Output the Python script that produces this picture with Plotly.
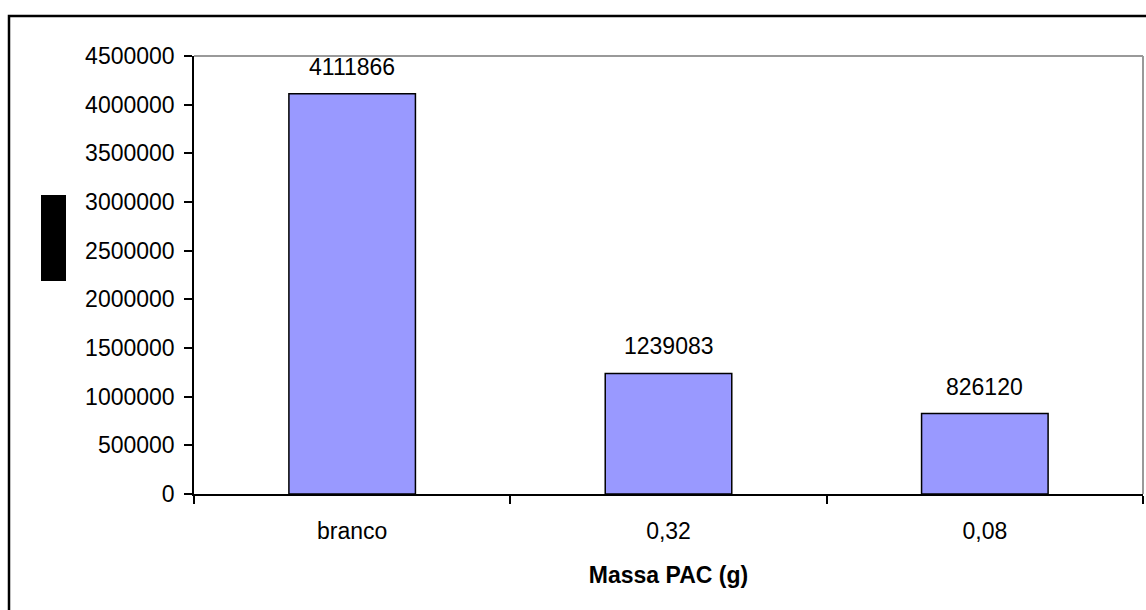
import plotly.graph_objects as go

categories = ["branco", "0,32", "0,08"]
values = [4111866, 1239083, 826120]
y_ticks = [0, 500000, 1000000, 1500000, 2000000, 2500000, 3000000, 3500000, 4000000, 4500000]
x_title = "Massa PAC (g)"

W, H = 1146, 610
L, R, T, B = 194, 3, 56, 116
pw, ph = W - L - R, H - T - B

def px_x(x):
    return (x - L) / pw

def px_y(y):
    return (H - B - y) / ph

FONT = "Liberation Sans, Arial, sans-serif"

fig = go.Figure(
    go.Bar(
        x=categories,
        y=values,
        marker=dict(color="#9999FF", line=dict(color="black", width=1.5)),
        hoverinfo="x+y",
    )
)

for c, v in zip(categories, values):
    fig.add_annotation(
        x=c, y=v, text=str(v), showarrow=False, yanchor="bottom", yshift=12,
        font=dict(family=FONT, size=23, color="black"),
    )

shapes = [
    # outer chart border
    dict(type="rect", xref="paper", yref="paper",
         x0=px_x(9), x1=px_x(1170), y0=px_y(630), y1=px_y(16),
         line=dict(color="black", width=2.5), fillcolor="rgba(0,0,0,0)", layer="below"),
    # plot area top and right border (gray)
    dict(type="line", xref="paper", yref="paper", x0=0, x1=1, y0=1, y1=1,
         line=dict(color="#999999", width=2), layer="below"),
    dict(type="line", xref="paper", yref="paper", x0=1, x1=1, y0=0, y1=1,
         line=dict(color="#999999", width=2), layer="below"),
    # redacted y-axis title block
    dict(type="rect", xref="paper", yref="paper",
         x0=px_x(41), x1=px_x(66), y0=px_y(281), y1=px_y(195),
         line=dict(width=0), fillcolor="black", layer="above"),
]

fig.update_layout(
    width=W, height=H,
    margin=dict(l=L, r=R, t=T, b=B, pad=0),
    paper_bgcolor="white", plot_bgcolor="white",
    bargap=0.6,
    showlegend=False,
    shapes=shapes,
    font=dict(family=FONT, size=23, color="black"),
    xaxis=dict(
        type="category",
        showline=True, linecolor="black", linewidth=1.5,
        ticks="outside", tickson="boundaries", ticklen=8, tickcolor="black", tickwidth=1.5,
        ticklabelstandoff=16,
        showgrid=False, zeroline=False,
        tickfont=dict(family=FONT, size=23, color="black"),
        title=dict(text="<b>" + x_title + "</b>", standoff=24,
                   font=dict(family=FONT, size=23, color="black")),
    ),
    yaxis=dict(
        range=[0, 4500000],
        tickvals=y_ticks,
        ticktext=[str(v) for v in y_ticks],
        showline=True, linecolor="black", linewidth=1.5,
        ticks="outside", ticklen=8, tickcolor="black", tickwidth=1.5,
        ticklabelstandoff=5,
        showgrid=False, zeroline=False,
        tickfont=dict(family=FONT, size=23, color="black"),
    ),
)

fig.write_html(
    "out.html",
    config={"displayModeBar": False},
    post_script="document.body.style.margin='0';document.body.style.padding='0';",
)
